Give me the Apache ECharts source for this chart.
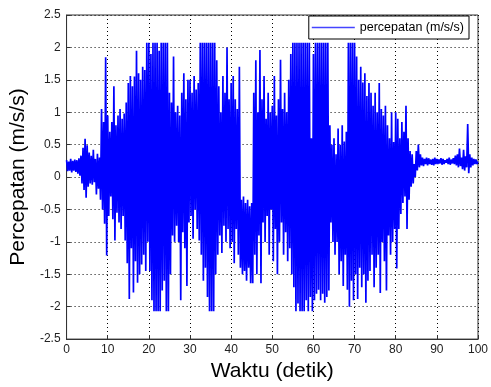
<!DOCTYPE html>
<html>
<head>
<meta charset="utf-8">
<script src="https://cdn.jsdelivr.net/npm/echarts@6/dist/echarts.min.js"></script>
<style>
html,body{margin:0;padding:0;background:#fff;}
#chart{width:491px;height:387px;}
</style>
</head>
<body>
<div id="chart"></div>
<script>
// Sampling step of the read-off peaks (seconds); each step holds one upper and one lower peak
const sampleStep = 0.5;
// Upper peaks, one per 0.5 s, t = 0 ... 99.5
const upperPeaks = [
  0.26,0.24,0.28,0.25,0.27,0.26,0.29,0.33,0.45,0.59,
  0.49,0.38,0.33,0.42,0.28,0.36,0.30,1.05,0.85,1.85,
  0.95,0.70,0.85,1.40,0.80,0.95,1.05,0.90,0.98,1.15,
  1.45,1.56,1.40,1.55,1.95,1.60,1.50,1.70,1.65,2.07,
  2.07,1.90,2.07,2.07,2.07,1.95,2.07,2.07,2.07,2.07,
  1.30,1.15,1.86,1.00,1.10,0.95,1.30,1.60,1.20,1.50,
  1.50,1.30,1.56,1.35,1.45,2.07,2.07,2.07,2.07,2.07,
  2.07,2.07,2.07,1.80,1.40,1.00,1.56,1.30,2.00,1.20,
  1.45,1.56,1.20,1.05,1.70,-0.35,-0.30,-0.40,-0.35,-0.45,
  -0.40,1.30,1.80,1.00,1.96,1.20,1.56,0.90,1.30,1.00,
  1.10,1.56,0.95,1.20,1.81,1.05,1.30,1.00,1.50,1.90,
  2.07,2.07,2.07,2.07,2.07,2.07,2.07,2.07,2.07,0.60,
  1.90,2.07,2.07,2.07,2.07,2.07,2.07,2.07,0.80,0.50,
  0.60,0.35,0.75,0.50,0.80,0.55,0.70,2.07,2.07,2.07,
  2.07,1.86,1.50,1.70,1.46,1.60,1.25,1.45,1.30,1.10,
  1.30,1.00,1.45,1.05,0.95,1.10,0.80,0.60,1.00,0.54,
  1.00,0.90,0.60,0.85,0.70,1.10,0.60,0.40,0.35,0.20,
  0.40,0.50,0.35,0.30,0.28,0.30,0.29,0.27,0.28,0.30,
  0.28,0.27,0.29,0.28,0.26,0.28,0.30,0.27,0.29,0.33,
  0.35,0.44,0.30,0.42,0.32,0.82,0.35,0.30,0.28,0.27
];
// Lower peaks, one per 0.5 s, t = 0.25 ... 99.75
const lowerPeaks = [
  0.09,0.10,0.07,0.10,0.08,0.05,0.02,-0.10,-0.20,-0.32,
  -0.15,-0.10,-0.12,-0.08,-0.27,-0.18,-0.35,-0.50,-0.72,-1.21,
  -0.60,-0.30,-0.65,-0.98,-0.55,-0.70,-0.80,-0.60,-0.98,-1.33,
  -1.88,-1.10,-1.78,-1.30,-1.63,-1.50,-1.35,-1.20,-1.45,-1.00,
  -1.45,-1.90,-2.07,-2.07,-2.07,-2.07,-1.75,-1.60,-2.07,-2.07,
  -1.50,-0.90,-1.00,-0.75,-1.00,-1.90,-0.85,-1.10,-1.68,-0.70,
  -0.60,-0.95,-0.50,-0.80,-0.98,-1.20,-1.60,-1.40,-1.85,-2.07,
  -2.07,-2.07,-1.50,-1.20,-0.90,-1.17,-0.75,-1.00,-0.80,-1.10,
  -1.00,-1.33,-0.80,-1.20,-1.40,-1.50,-1.45,-1.60,-1.40,-1.64,
  -1.64,-1.20,-1.50,-0.90,-1.64,-0.70,-1.00,-0.60,-1.20,-0.50,
  -1.30,-0.80,-1.50,-1.00,-0.70,-1.20,-0.85,-1.30,-1.10,-1.50,
  -1.70,-2.07,-1.95,-2.07,-2.07,-2.07,-1.90,-2.07,-1.85,-2.07,
  -1.90,-1.80,-1.74,-1.90,-1.80,-1.94,-1.85,-1.75,-0.70,-1.00,
  -1.20,-1.00,-1.50,-1.30,-1.68,-1.20,-1.74,-2.00,-1.60,-1.90,
  -1.50,-1.88,-1.40,-1.70,-1.50,-1.94,-1.60,-1.45,-1.20,-1.70,
  -1.40,-1.20,-1.79,-1.00,-1.30,-1.75,-0.90,-1.20,-1.00,-0.80,
  -1.41,-0.80,-0.57,-0.40,-0.30,-0.80,-0.35,-0.15,-0.10,0.00,
  0.10,0.15,0.18,0.17,0.20,0.18,0.20,0.19,0.18,0.20,
  0.20,0.21,0.19,0.20,0.22,0.20,0.19,0.21,0.20,0.18,
  0.15,0.17,0.12,0.10,0.15,0.06,0.15,0.18,0.20,0.20
];
const lastValue = 0.24;
const xTicks = [0,10,20,30,40,50,60,70,80,90,100];
const yTicks = [-2.5,-2,-1.5,-1,-0.5,0,0.5,1,1.5,2,2.5];
const seriesName = 'percepatan (m/s/s)';
const xTitle = 'Waktu (detik)';
const yTitle = 'Percepatan (m/s/s)';

const points = [];
for (let i = 0; i < upperPeaks.length; i++) {
  points.push([i * sampleStep, upperPeaks[i]]);
  points.push([i * sampleStep + sampleStep / 2, lowerPeaks[i]]);
}
points.push([xTicks[xTicks.length - 1], lastValue]);

const chart = echarts.init(document.getElementById('chart'), null, {renderer: 'canvas'});
const font = 'Liberation Sans, Arial, sans-serif';
const gridLine = {show: true, lineStyle: {color: '#000', type: [1, 3], width: 1}};
chart.setOption({
  animation: false,
  color: ['#0000ff'],
  backgroundColor: '#fff',
  grid: {left: 64, right: 8, top: 15, bottom: 43, show: true, borderColor: '#333', borderWidth: 1, backgroundColor: '#fff'},
  legend: {
    data: [{name: seriesName, icon: 'rect', itemStyle: {color: '#4444ff'}}],
    right: 22, top: 16,
    backgroundColor: '#fff', borderColor: '#000', borderWidth: 1,
    padding: [5, 5, 5, 3], itemWidth: 43, itemHeight: 1.5, itemGap: 4,
    textStyle: {fontFamily: font, fontSize: 12.5, color: '#000'}
  },
  xAxis: {
    type: 'value', min: xTicks[0], max: xTicks[xTicks.length - 1], interval: 10,
    name: xTitle, nameLocation: 'middle', nameGap: 21,
    nameTextStyle: {fontFamily: font, fontSize: 21, color: '#000'},
    axisLine: {show: true, onZero: false, lineStyle: {color: '#333'}},
    axisTick: {show: true, inside: true, length: 4, lineStyle: {color: '#333'}},
    axisLabel: {fontFamily: font, fontSize: 12, color: '#222', margin: 5},
    splitLine: gridLine
  },
  yAxis: {
    type: 'value', min: yTicks[0], max: yTicks[yTicks.length - 1], interval: 0.5,
    name: yTitle, nameLocation: 'middle', nameGap: 28,
    nameTextStyle: {fontFamily: font, fontSize: 21, color: '#000'},
    axisLine: {show: true, onZero: false, lineStyle: {color: '#333'}},
    axisTick: {show: true, inside: true, length: 4, lineStyle: {color: '#333'}},
    axisLabel: {fontFamily: font, fontSize: 12, color: '#222', margin: 6},
    splitLine: gridLine
  },
  series: [{
    name: seriesName,
    type: 'line',
    data: points,
    symbol: 'none',
    sampling: null,
    lineStyle: {color: '#0000ff', width: 1.7},
    itemStyle: {color: '#0000ff'}
  }]
});
</script>
</body>
</html>
